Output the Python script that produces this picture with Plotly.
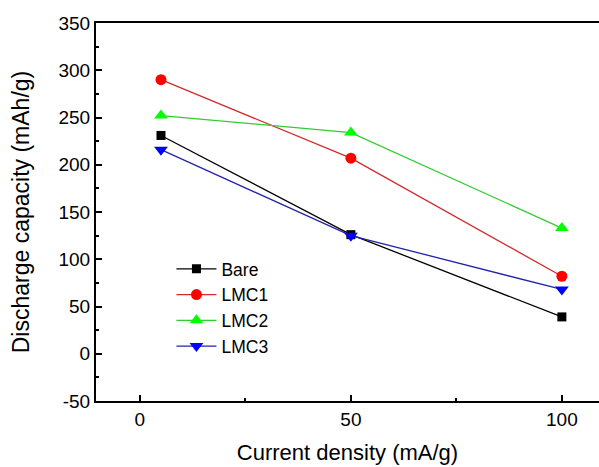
import plotly.graph_objects as go

current_density = [5, 50, 100]
bare = [231, 126, 39]
lmc1 = [290, 207, 82]
lmc2 = [252, 234, 133]
lmc3 = [216, 125, 68]

x_ticks = [0, 50, 100]
y_ticks = [-50, 0, 50, 100, 150, 200, 250, 300, 350]
y_ticktext = ["-50", "0", "50", "100", "150", "200", "250", "300", "350"]

series = [
    ("Bare", bare, "#000000", "#000000", "square", 9),
    ("LMC1", lmc1, "#d42a2a", "#ff0000", "circle", 11),
    ("LMC2", lmc2, "#33cc33", "#00ff00", "triangle-up", 12),
    ("LMC3", lmc3, "#2222aa", "#0000ff", "triangle-down", 12),
]

fig = go.Figure()
for name, vals, lc, mc, sym, sz in series:
    fig.add_trace(go.Scatter(
        x=current_density, y=vals, name=name, mode="lines+markers",
        line=dict(color=lc, width=1.3),
        marker=dict(color=mc, symbol=sym, size=sz, line=dict(width=0)),
    ))

font = "Liberation Sans, Arial, sans-serif"
fig.update_layout(
    width=599, height=467,
    margin=dict(l=96, r=0, t=23, b=66, autoexpand=False),
    paper_bgcolor="white", plot_bgcolor="white",
    font=dict(family=font, size=18, color="black"),
    showlegend=True,
    legend=dict(x=0.15, y=0.397, xanchor="left", yanchor="top",
                bgcolor="rgba(0,0,0,0)", font=dict(size=17.5),
                tracegroupgap=0, itemwidth=40),
)
fig.update_xaxes(
    range=[-10.4, 108.8], tickvals=x_ticks,
    showline=True, linecolor="black", linewidth=2, mirror=True,
    ticks="inside", ticklen=6, tickwidth=2, tickcolor="black",
    minor=dict(tickvals=[25, 75], ticks="inside", ticklen=3, tickwidth=2, tickcolor="black"),
    showgrid=False, zeroline=False, automargin=False,
    tickfont=dict(size=19),
    title=dict(text="Current density (mA/g)", font=dict(size=22), standoff=16),
)
fig.update_yaxes(
    range=[-50, 350], tickvals=y_ticks, ticktext=y_ticktext,
    showline=True, linecolor="black", linewidth=2, mirror=False,
    ticks="inside", ticklen=6, tickwidth=2, tickcolor="black",
    minor=dict(dtick=25, tick0=-50, ticks="inside", ticklen=3, tickwidth=2, tickcolor="black"),
    showgrid=False, zeroline=False, automargin=False,
    tickfont=dict(size=19),
    title=dict(text="Discharge capacity (mAh/g)", font=dict(size=23), standoff=22),
)
fig.write_html("out.html", config={"displayModeBar": False},
               post_script="document.body.style.margin='0px';")
